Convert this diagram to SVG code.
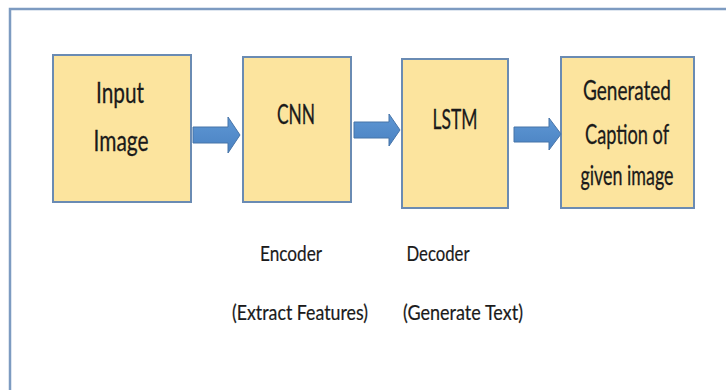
<svg xmlns="http://www.w3.org/2000/svg" width="726" height="390" viewBox="0 0 726 390">
  <defs>
    <linearGradient id="arrowFill" x1="0" y1="0" x2="0" y2="1">
      <stop offset="0" stop-color="#5E97D4"/>
      <stop offset="1" stop-color="#4A82C2"/>
    </linearGradient>
    <style>
      .frame { fill: #FFFFFF; stroke: #7D9BC1; stroke-width: 2.5; }
      .box { fill: #FCE49E; stroke: #6A8BB3; stroke-width: 2; }
      .arrow { fill: url(#arrowFill); stroke: #4774A8; stroke-width: 1; }
      .label { font-family: Lato, "Open Sans", "Liberation Sans", sans-serif; fill: #1A1A1A; text-anchor: middle; stroke: #1A1A1A; stroke-width: 0.3; }
      .big { font-size: 29px; }
      .mid { font-size: 26px; }
      .small { font-size: 21px; stroke-width: 0.2; }
    </style>
  </defs>

  <!-- outer frame, open to the right and bottom edges -->
  <rect class="frame" x="10" y="9" width="740" height="400"/>

  <g id="input-image">
    <rect class="box" x="53" y="55" width="138" height="147"/>
    <text class="label big" x="120" y="103" textLength="48" lengthAdjust="spacingAndGlyphs">Input</text>
    <text class="label big" x="121" y="151" textLength="55" lengthAdjust="spacingAndGlyphs">Image</text>
  </g>

  <g id="cnn">
    <rect class="box" x="243" y="57" width="108" height="145"/>
    <text class="label mid" x="296" y="124" textLength="38" lengthAdjust="spacingAndGlyphs">CNN</text>
  </g>

  <g id="lstm">
    <rect class="box" x="402" y="59" width="106" height="149"/>
    <text class="label mid" x="455" y="129" textLength="45" lengthAdjust="spacingAndGlyphs">LSTM</text>
  </g>

  <g id="caption">
    <rect class="box" x="561" y="57" width="133" height="151"/>
    <text class="label mid" x="627" y="100" textLength="88" lengthAdjust="spacingAndGlyphs">Generated</text>
    <text class="label mid" x="627" y="144" textLength="84" lengthAdjust="spacingAndGlyphs">Caption of</text>
    <text class="label mid" x="627" y="185" textLength="93" lengthAdjust="spacingAndGlyphs">given image</text>
  </g>

  <g id="encoder-label">
    <text class="label small" x="291" y="261" textLength="62" lengthAdjust="spacingAndGlyphs">Encoder</text>
    <text class="label small" x="300" y="320" textLength="136" lengthAdjust="spacingAndGlyphs">(Extract Features)</text>
  </g>

  <g id="decoder-label">
    <text class="label small" x="438" y="261" textLength="63" lengthAdjust="spacingAndGlyphs">Decoder</text>
    <text class="label small" x="463" y="320" textLength="120" lengthAdjust="spacingAndGlyphs">(Generate Text)</text>
  </g>

  <g id="connectors">
    <polygon class="arrow" points="193,127 228,127 228,117 240,135 228,153 228,143 193,143"/>
    <polygon class="arrow" points="354,122 389,122 389,114 400,130 389,146 389,138 354,138"/>
    <polygon class="arrow" points="514,127 549,127 549,118 561,134 549,150 549,142 514,142"/>
  </g>
</svg>
